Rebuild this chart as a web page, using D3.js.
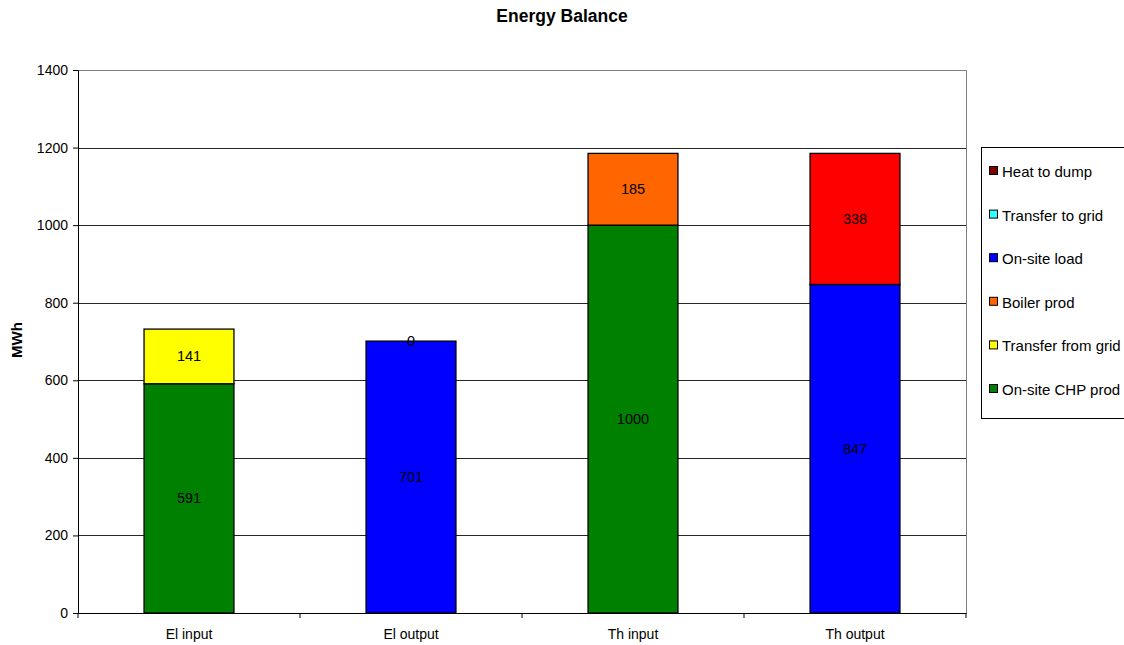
<!DOCTYPE html>
<html>
<head>
<meta charset="utf-8">
<script src="https://cdn.jsdelivr.net/npm/d3@7"></script>
<style>
  body { margin: 0; background: #fff; }
  svg { font-family: "Liberation Sans", Arial, sans-serif; }
</style>
</head>
<body>
<svg id="chart" width="1124" height="645"></svg>
<script>
// Bars along the x axis
const categories = ["El input", "El output", "Th input", "Th output"];

// Series, bottom to top of the stack, with their legend colours
const seriesNames = ["On-site CHP prod", "Transfer from grid", "Boiler prod", "On-site load", "Transfer to grid", "Heat to dump"];
const seriesColors = ["#008000", "#ffff00", "#ff6600", "#0000ff", "#33ffff", "#800000"];

// Values per series, one per category (null = not part of that bar)
const chpProd      = [591, null, 1000, null];
const gridIn       = [141, null, null, null];
const boilerProd   = [null, null, 185, null];
const onsiteLoad   = [null, 701, null, 847];
const gridOut      = [null, 0, null, null];
const heatDump     = [null, null, null, 338];
const seriesValues = [chpProd, gridIn, boilerProd, onsiteLoad, gridOut, heatDump];

// Heat dumped on the thermal output bar is drawn in plain red
const pointColorOverride = { "Heat to dump|Th output": "#ff0000" };

const yTicks = [0, 200, 400, 600, 800, 1000, 1200, 1400];

const svg = d3.select("#chart");
const m = { left: 78, right: 966, top: 70, bottom: 613 };

const x = d3.scaleBand().domain(categories).range([m.left, m.right]).paddingInner(0).paddingOuter(0);
const y = d3.scaleLinear().domain([0, 1400]).range([m.bottom, m.top]);
const barW = x.bandwidth() * 0.405;

// Title
svg.append("text").attr("x", 562).attr("y", 22).attr("text-anchor", "middle")
  .attr("font-size", 17.5).attr("font-weight", "bold").text("Energy Balance");

// Y axis title
svg.append("text").attr("transform", "translate(22,340) rotate(-90)")
  .attr("text-anchor", "middle").attr("font-size", 15).attr("font-weight", "bold").text("MWh");

// Plot frame (top and right)
svg.append("path")
  .attr("d", `M${m.left},${m.top + 0.5}H${m.right + 0.5}V${m.bottom}`)
  .attr("fill", "none").attr("stroke", "#808080").attr("stroke-width", 1);

// Gridlines
svg.append("g").selectAll("line").data(yTicks.filter(d => d > 0 && d < 1400)).join("line")
  .attr("x1", m.left).attr("x2", m.right)
  .attr("y1", d => Math.round(y(d)) + 0.5).attr("y2", d => Math.round(y(d)) + 0.5)
  .attr("stroke", "#000").attr("stroke-width", 1).attr("opacity", 0.85);

// Stacked segments
const segs = [];
categories.forEach((c, ci) => {
  let base = 0;
  seriesNames.forEach((s, si) => {
    const v = seriesValues[si][ci];
    if (v === null) return;
    const color = pointColorOverride[s + "|" + c] || seriesColors[si];
    segs.push({ cat: c, series: s, value: v, y0: base, y1: base + v, color });
    base += v;
  });
});

const gBars = svg.append("g");
gBars.selectAll("rect").data(segs.filter(d => d.value > 0)).join("rect")
  .attr("x", d => x(d.cat) + (x.bandwidth() - barW) / 2)
  .attr("width", barW)
  .attr("y", d => y(d.y1))
  .attr("height", d => y(d.y0) - y(d.y1))
  .attr("fill", d => d.color)
  .attr("stroke", "#000").attr("stroke-width", 1.3);

// Value labels, centred in each segment
gBars.selectAll("text").data(segs).join("text")
  .attr("x", d => x(d.cat) + x.bandwidth() / 2)
  .attr("y", d => y((d.y0 + d.y1) / 2) + 5)
  .attr("text-anchor", "middle").attr("font-size", 14.5).attr("fill", "#000")
  .text(d => d.value);

// Y axis
const yAxis = svg.append("g").attr("transform", `translate(${m.left},0)`)
  .call(d3.axisLeft(y).tickValues(yTicks).tickSize(5).tickPadding(5).tickFormat(d3.format("d")));
yAxis.select(".domain").attr("stroke", "#000");
yAxis.selectAll(".tick line").attr("stroke", "#000");
yAxis.selectAll(".tick text").attr("font-size", 14).attr("fill", "#000")
  .attr("font-family", "Liberation Sans, Arial, sans-serif");

// X axis
const xAxis = svg.append("g").attr("transform", `translate(0,${m.bottom})`)
  .call(d3.axisBottom(x).tickSize(0).tickPadding(16));
xAxis.select(".domain").attr("stroke", "#000");
xAxis.selectAll(".tick text").attr("font-size", 14).attr("fill", "#000")
  .attr("font-family", "Liberation Sans, Arial, sans-serif");
// Category boundary ticks
svg.append("g").selectAll("line").data(d3.range(categories.length + 1)).join("line")
  .attr("x1", i => m.left + i * x.bandwidth()).attr("x2", i => m.left + i * x.bandwidth())
  .attr("y1", m.bottom).attr("y2", m.bottom + 5).attr("stroke", "#000");

// Legend (top entry is the last series)
const lg = svg.append("g");
lg.append("rect").attr("x", 981.5).attr("y", 147.5).attr("width", 150).attr("height", 271)
  .attr("fill", "#fff").attr("stroke", "#000");
const legendOrder = seriesNames.map((s, i) => ({ s, c: seriesColors[i] })).reverse();
const item = lg.selectAll("g.item").data(legendOrder).join("g")
  .attr("transform", (d, i) => `translate(989,${172 + i * 43.6})`);
item.append("rect").attr("x", 0.5).attr("y", -5.5).attr("width", 8).attr("height", 8)
  .attr("fill", d => d.c).attr("stroke", "#000");
item.append("text").attr("x", 13).attr("y", 5).attr("font-size", 15).text(d => d.s);
</script>
</body>
</html>
